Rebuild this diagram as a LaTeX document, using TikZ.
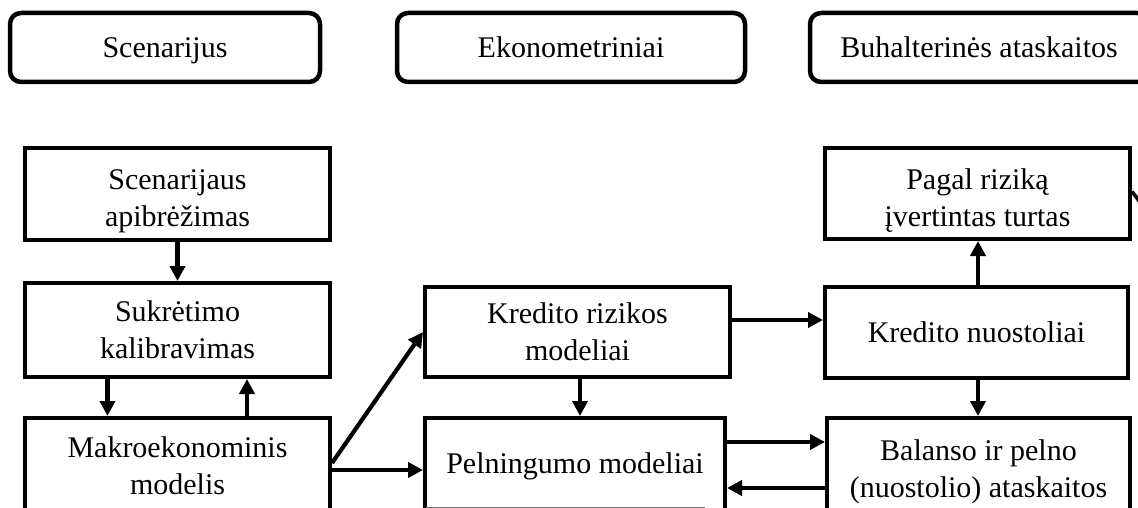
\documentclass[tikz,border=0pt]{standalone}
\usepackage{fontspec}
\setmainfont{Liberation Serif}
\usetikzlibrary{arrows.meta,calc}
\tikzset{
  header/.style={draw, line width=4.5pt, rounded corners=11pt, inner sep=0pt,
    minimum height=69pt, text height=28pt, text depth=7pt,
    font=\fontsize{30}{37}\selectfont},
  stage/.style={draw, line width=4pt, inner sep=0pt, align=center,
    font=\fontsize{30}{37}\selectfont},
  lbl/.style={align=center, inner sep=0pt, font=\fontsize{30}{37}\selectfont},
  link/.style={line width=4.2pt, -{Triangle[length=15pt,width=15pt]}},
}
\begin{document}
\begin{tikzpicture}[x=1pt,y=-1pt]
\useasboundingbox (0,0) rectangle (1138,508);
\clip (0,0) rectangle (1138,508);

% column headings
\node[header, minimum width=310pt] (sc) at (165,47.5) {Scenarijus};
\node[header, minimum width=348pt] (ek) at (571,47.5) {Ekonometriniai};
\node[header, minimum width=338pt] (bu) at (979,47.5) {Buhalterinės ataskaitos};

% scenario column
\node[stage, minimum width=305pt, minimum height=92pt,
  label={[lbl,yshift=-7pt]center:Scenarijaus\\apibrėžimas}] (sa) at (177.5,194) {};
\node[stage, minimum width=305pt, minimum height=94pt] (sk) at (177.5,330) {Sukrėtimo\\kalibravimas};
\node[stage, minimum width=305pt, minimum height=96pt] (mk) at (177.5,466) {Makroekonominis\\modelis};

% econometric column
\node[stage, minimum width=305pt, minimum height=90pt] (kr) at (577.5,332) {Kredito rizikos\\modeliai};
\node[stage, minimum width=300pt, minimum height=96pt] (pe) at (575,466) {Pelningumo modeliai};

% accounting column
\node[stage, minimum width=305pt, minimum height=91pt,
  label={[lbl,yshift=-7pt]center:Pagal riziką\\įvertintas turtas}] (pa) at (977.5,193.5) {};
\node[stage, minimum width=303pt, minimum height=91pt] (kn) at (976.5,332.5) {Kredito nuostoliai};
\node[stage, minimum width=303pt, minimum height=96pt,
  label={[lbl,yshift=-6pt]center:Balanso ir pelno\\(nuostolio) ataskaitos}] (ba) at (978.5,466) {};

% connectors
\draw[link] (sa) -- (sk);
\draw[link] ($(sk.south)+(-70,0)$) -- ($(mk.north)+(-70,0)$);
\draw[link] ($(mk.north)+(69.5,0)$) -- ($(sk.south)+(69.5,0)$);
\draw[link] ($(mk.east)+(0,-3)$) -- (kr.west);
\draw[link] ($(mk.east)+(0,4)$) -- ($(pe.west)+(0,4)$);
\draw[link] ($(kr.south)+(2.5,0)$) -- ($(pe.north)+(5,0)$);
\draw[link] ($(kr.east)+(0,-12)$) -- ($(kn.west)+(0,-12.5)$);
\draw[link] ($(kn.north)+(1.5,0)$) -- ($(pa.south)+(0.5,0)$);
\draw[link] ($(kn.south)+(1.5,0)$) -- ($(ba.north)+(-0.5,0)$);
\draw[link] ($(pe.east)+(0,-24)$) -- ($(ba.west)+(0,-24)$);
\draw[link] ($(ba.west)+(0,22)$) -- ($(pe.east)+(0,22)$);

% return path on the right, running out past the margin
\coordinate (ret) at (1185,330);
\draw[line width=3.5pt] ($(pa.east)+(0,-2)$) .. controls (1148,212) and (1180,260) .. (ret);
\draw[line width=3pt, black!20] (ret) .. controls (1190,400) and (1165,452) .. ($(ba.east)+(8,-10)$);

% lower rule under the profitability box
\draw[line width=1pt, black!55] (426,507) -- (705,507);
\end{tikzpicture}
\end{document}
